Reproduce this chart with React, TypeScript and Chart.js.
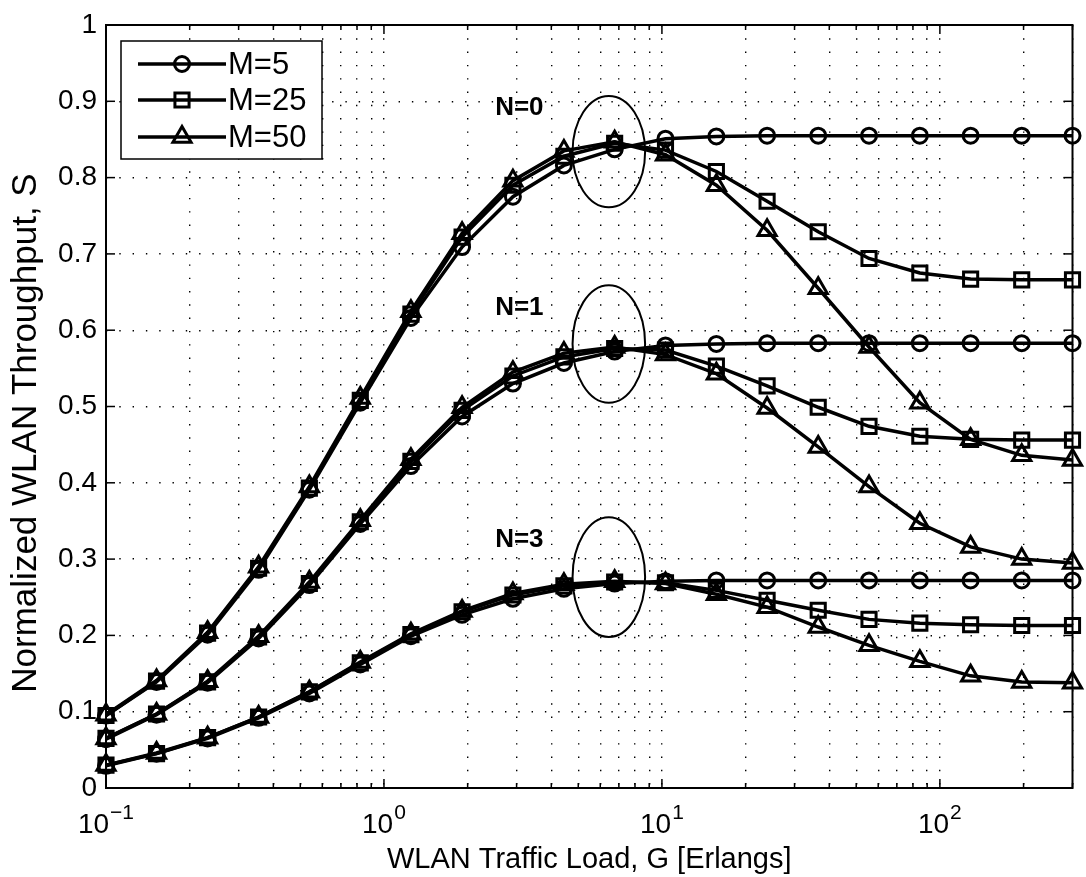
import React, { useEffect, useRef } from 'react';
import { Chart, registerables } from 'chart.js';

Chart.register(...registerables);

// Traffic load G [Erlangs] (x positions of the markers)
const loadG = [0.1, 0.152, 0.232, 0.354, 0.539, 0.822, 1.25, 1.91, 2.91, 4.44, 6.76, 10.3, 15.7, 23.9, 36.5, 55.6, 84.7, 129, 197, 300];

// N=0
const n0M5 = [0.095, 0.139, 0.201, 0.286, 0.391, 0.505, 0.616, 0.709, 0.775, 0.816, 0.837, 0.851, 0.854, 0.855, 0.855, 0.855, 0.855, 0.855, 0.855, 0.855];
const n0M25 = [0.095, 0.140, 0.203, 0.288, 0.393, 0.508, 0.621, 0.722, 0.790, 0.828, 0.845, 0.836, 0.808, 0.769, 0.729, 0.694, 0.675, 0.667, 0.666, 0.666];
const n0M50 = [0.096, 0.141, 0.204, 0.290, 0.395, 0.511, 0.625, 0.727, 0.796, 0.835, 0.847, 0.830, 0.790, 0.731, 0.655, 0.578, 0.505, 0.457, 0.436, 0.430];
// N=1
const n1M5 = [0.064, 0.096, 0.138, 0.196, 0.266, 0.346, 0.422, 0.487, 0.530, 0.557, 0.572, 0.580, 0.582, 0.583, 0.583, 0.583, 0.583, 0.583, 0.583, 0.583];
const n1M25 = [0.065, 0.097, 0.139, 0.198, 0.268, 0.349, 0.428, 0.495, 0.540, 0.565, 0.576, 0.574, 0.553, 0.527, 0.499, 0.474, 0.461, 0.457, 0.456, 0.456];
const n1M50 = [0.065, 0.097, 0.140, 0.199, 0.270, 0.351, 0.431, 0.499, 0.545, 0.570, 0.578, 0.568, 0.543, 0.498, 0.447, 0.395, 0.347, 0.316, 0.300, 0.295];
// N=3
const n3M5 = [0.029, 0.045, 0.065, 0.092, 0.124, 0.162, 0.199, 0.227, 0.248, 0.261, 0.268, 0.271, 0.272, 0.272, 0.272, 0.272, 0.272, 0.272, 0.272, 0.272];
const n3M25 = [0.030, 0.045, 0.066, 0.093, 0.126, 0.164, 0.201, 0.231, 0.253, 0.265, 0.270, 0.269, 0.259, 0.246, 0.233, 0.221, 0.216, 0.214, 0.213, 0.213];
const n3M50 = [0.030, 0.046, 0.066, 0.093, 0.126, 0.165, 0.202, 0.232, 0.255, 0.267, 0.271, 0.268, 0.254, 0.237, 0.211, 0.187, 0.166, 0.147, 0.139, 0.138];

const seriesLabels = ['M=5', 'M=25', 'M=50'];
const markerStyles = ['circle', 'rect', 'triangle'];
const markerRadii = [7.5, 10, 10.5];

const xGridValues = [0.1, 0.2, 0.3, 0.4, 0.5, 0.6, 0.7, 0.8, 0.9, 1, 2, 3, 4, 5, 6, 7, 8, 9, 10, 20, 30, 40, 50, 60, 70, 80, 90, 100, 200, 300];
const xMajorValues = [0.1, 1, 10, 100];
const xMajorExponents = ['\u22121', '0', '1', '2'];
const yTickValues = [0, 0.1, 0.2, 0.3, 0.4, 0.5, 0.6, 0.7, 0.8, 0.9, 1];
const yTickLabels = ['0', '0.1', '0.2', '0.3', '0.4', '0.5', '0.6', '0.7', '0.8', '0.9', '1'];

const groupLabels = ['N=0', 'N=1', 'N=3'];
const groupLabelX = [3.07, 3.07, 3.07];
const groupLabelY = [0.891, 0.629, 0.325];
const ellipseX = [4.77, 8.7];
const ellipseTop = [0.907, 0.659, 0.355];
const ellipseBottom = [0.761, 0.505, 0.198];

const xTitle = 'WLAN Traffic Load, G [Erlangs]';
const yTitle = 'Normalized WLAN Throughput, S';

const FONT = '"Liberation Sans", Arial, Helvetica, sans-serif';

function drawMarker(ctx: CanvasRenderingContext2D, style: string, x: number, y: number, r: number) {
  ctx.beginPath();
  if (style === 'circle') {
    ctx.arc(x, y, r, 0, Math.PI * 2);
  } else if (style === 'rect') {
    const s = Math.SQRT1_2 * r;
    ctx.rect(x - s, y - s, 2 * s, 2 * s);
  } else {
    ctx.moveTo(x, y - r);
    ctx.lineTo(x + Math.sin((2 * Math.PI) / 3) * r, y - Math.cos((2 * Math.PI) / 3) * r);
    ctx.lineTo(x + Math.sin((4 * Math.PI) / 3) * r, y - Math.cos((4 * Math.PI) / 3) * r);
    ctx.closePath();
  }
  ctx.stroke();
}

const decorPlugin = {
  id: 'decor',
  afterDatasetsDraw(chart: any) {
    const { ctx, scales } = chart;
    const xs = scales.x;
    const ys = scales.y;
    ctx.save();
    ctx.strokeStyle = '#000';
    ctx.lineWidth = 2;
    const xl = xs.getPixelForValue(ellipseX[0]);
    const xr = xs.getPixelForValue(ellipseX[1]);
    for (let i = 0; i < ellipseTop.length; i++) {
      const yt = ys.getPixelForValue(ellipseTop[i]);
      const yb = ys.getPixelForValue(ellipseBottom[i]);
      ctx.beginPath();
      ctx.ellipse((xl + xr) / 2, (yt + yb) / 2, (xr - xl) / 2, (yb - yt) / 2, 0, 0, Math.PI * 2);
      ctx.stroke();
    }
    ctx.fillStyle = '#000';
    ctx.font = 'bold 26px ' + FONT;
    ctx.textAlign = 'center';
    ctx.textBaseline = 'middle';
    for (let i = 0; i < groupLabels.length; i++) {
      ctx.fillText(groupLabels[i], xs.getPixelForValue(groupLabelX[i]), ys.getPixelForValue(groupLabelY[i]));
    }
    ctx.restore();
  },
  afterDraw(chart: any) {
    const { ctx, chartArea: a, scales } = chart;
    const xs = scales.x;
    const ys = scales.y;
    ctx.save();
    ctx.strokeStyle = '#000';
    ctx.fillStyle = '#000';
    ctx.lineWidth = 1.5;
    const line = (x1: number, y1: number, x2: number, y2: number) => {
      ctx.beginPath();
      ctx.moveTo(x1, y1);
      ctx.lineTo(x2, y2);
      ctx.stroke();
    };
    xGridValues.forEach((v) => {
      const px = xs.getPixelForValue(v);
      const len = xMajorValues.includes(v) ? 9 : 5;
      line(px, a.bottom, px, a.bottom - len);
      line(px, a.top, px, a.top + len);
    });
    yTickValues.forEach((v) => {
      const py = ys.getPixelForValue(v);
      line(a.left, py, a.left + 9, py);
      line(a.right, py, a.right - 9, py);
    });
    ctx.lineWidth = 2;
    ctx.strokeRect(a.left, a.top, a.right - a.left, a.bottom - a.top);

    ctx.font = '28px ' + FONT;
    ctx.textAlign = 'right';
    ctx.textBaseline = 'middle';
    yTickValues.forEach((v, i) => {
      ctx.fillText(yTickLabels[i], a.left - 9, ys.getPixelForValue(v));
    });

    ctx.textAlign = 'left';
    ctx.textBaseline = 'alphabetic';
    xMajorValues.forEach((v, i) => {
      const px = xs.getPixelForValue(v);
      ctx.font = '28px ' + FONT;
      const w1 = ctx.measureText('10').width;
      ctx.font = '21px ' + FONT;
      const w2 = ctx.measureText(xMajorExponents[i]).width;
      const start = px - (w1 + w2 + 1) / 2;
      ctx.font = '28px ' + FONT;
      ctx.fillText('10', start, a.bottom + 45);
      ctx.font = '21px ' + FONT;
      ctx.fillText(xMajorExponents[i], start + w1 + 1, a.bottom + 31);
    });

    ctx.font = '29px ' + FONT;
    ctx.textAlign = 'center';
    ctx.fillText(xTitle, (a.left + a.right) / 2, a.bottom + 80);
    ctx.save();
    ctx.translate(26, 433);
    ctx.rotate(-Math.PI / 2);
    ctx.font = '35px ' + FONT;
    ctx.textBaseline = 'middle';
    ctx.fillText(yTitle, 0, 0);
    ctx.restore();

    const bx = 121, by = 41, bw = 201, bh = 118;
    ctx.fillStyle = '#fff';
    ctx.fillRect(bx, by, bw, bh);
    ctx.lineWidth = 1.5;
    ctx.strokeRect(bx, by, bw, bh);
    ctx.fillStyle = '#000';
    ctx.font = '31px ' + FONT;
    ctx.textAlign = 'left';
    ctx.textBaseline = 'middle';
    const rows = [64, 100, 137];
    seriesLabels.forEach((lab, i) => {
      const ry = rows[i];
      ctx.lineWidth = 3.5;
      line(138, ry, 226, ry);
      ctx.lineWidth = 3;
      drawMarker(ctx, markerStyles[i], 182, ry, markerRadii[i]);
      ctx.fillText(lab, 228, ry + 1);
    });
    ctx.restore();
  },
};

export default function App() {
  const ref = useRef<HTMLCanvasElement | null>(null);
  useEffect(() => {
    if (!ref.current) return;
    const groups = [
      [n0M5, n0M25, n0M50],
      [n1M5, n1M25, n1M50],
      [n3M5, n3M25, n3M50],
    ];
    const datasets: any[] = [];
    groups.forEach((g, gi) => {
      g.forEach((vals, mi) => {
        datasets.push({
          label: seriesLabels[mi] + ' N' + gi,
          data: loadG.map((x, i) => ({ x, y: vals[i] })),
          borderColor: '#000',
          borderWidth: 3.5,
          pointStyle: markerStyles[mi],
          pointRadius: markerRadii[mi],
          pointBorderWidth: 3,
          pointBorderColor: '#000',
          pointBackgroundColor: 'rgba(0,0,0,0)',
          fill: false,
          tension: 0,
          clip: false,
          order: 2 - mi,
        });
      });
    });
    const chart = new Chart(ref.current, {
      type: 'line',
      data: { datasets },
      options: {
        animation: false,
        responsive: false,
        layout: { padding: { left: 106, top: 25, right: 12, bottom: 89 } },
        plugins: { legend: { display: false }, tooltip: { enabled: false } },
        scales: {
          x: {
            type: 'logarithmic',
            min: 0.1,
            max: 300,
            afterBuildTicks: (scale: any) => {
              scale.ticks = xGridValues.map((v) => ({ value: v }));
            },
            ticks: { display: false },
            grid: { color: '#000', lineWidth: 1.4, drawTicks: false },
            border: { display: false, dash: [1.4, 11.9] },
          },
          y: {
            type: 'linear',
            min: 0,
            max: 1,
            afterBuildTicks: (scale: any) => {
              scale.ticks = yTickValues.map((v) => ({ value: v }));
            },
            ticks: { display: false },
            grid: { color: '#000', lineWidth: 1.4, drawTicks: false },
            border: { display: false, dash: [1.4, 11.9] },
          },
        },
      },
      plugins: [decorPlugin],
    });
    return () => chart.destroy();
  }, []);
  return (
    <div style={{ position: 'fixed', left: 0, top: 0, width: 1086, height: 877, background: '#fff' }}>
      <canvas ref={ref} width={1086} height={877} style={{ display: 'block' }} />
    </div>
  );
}
